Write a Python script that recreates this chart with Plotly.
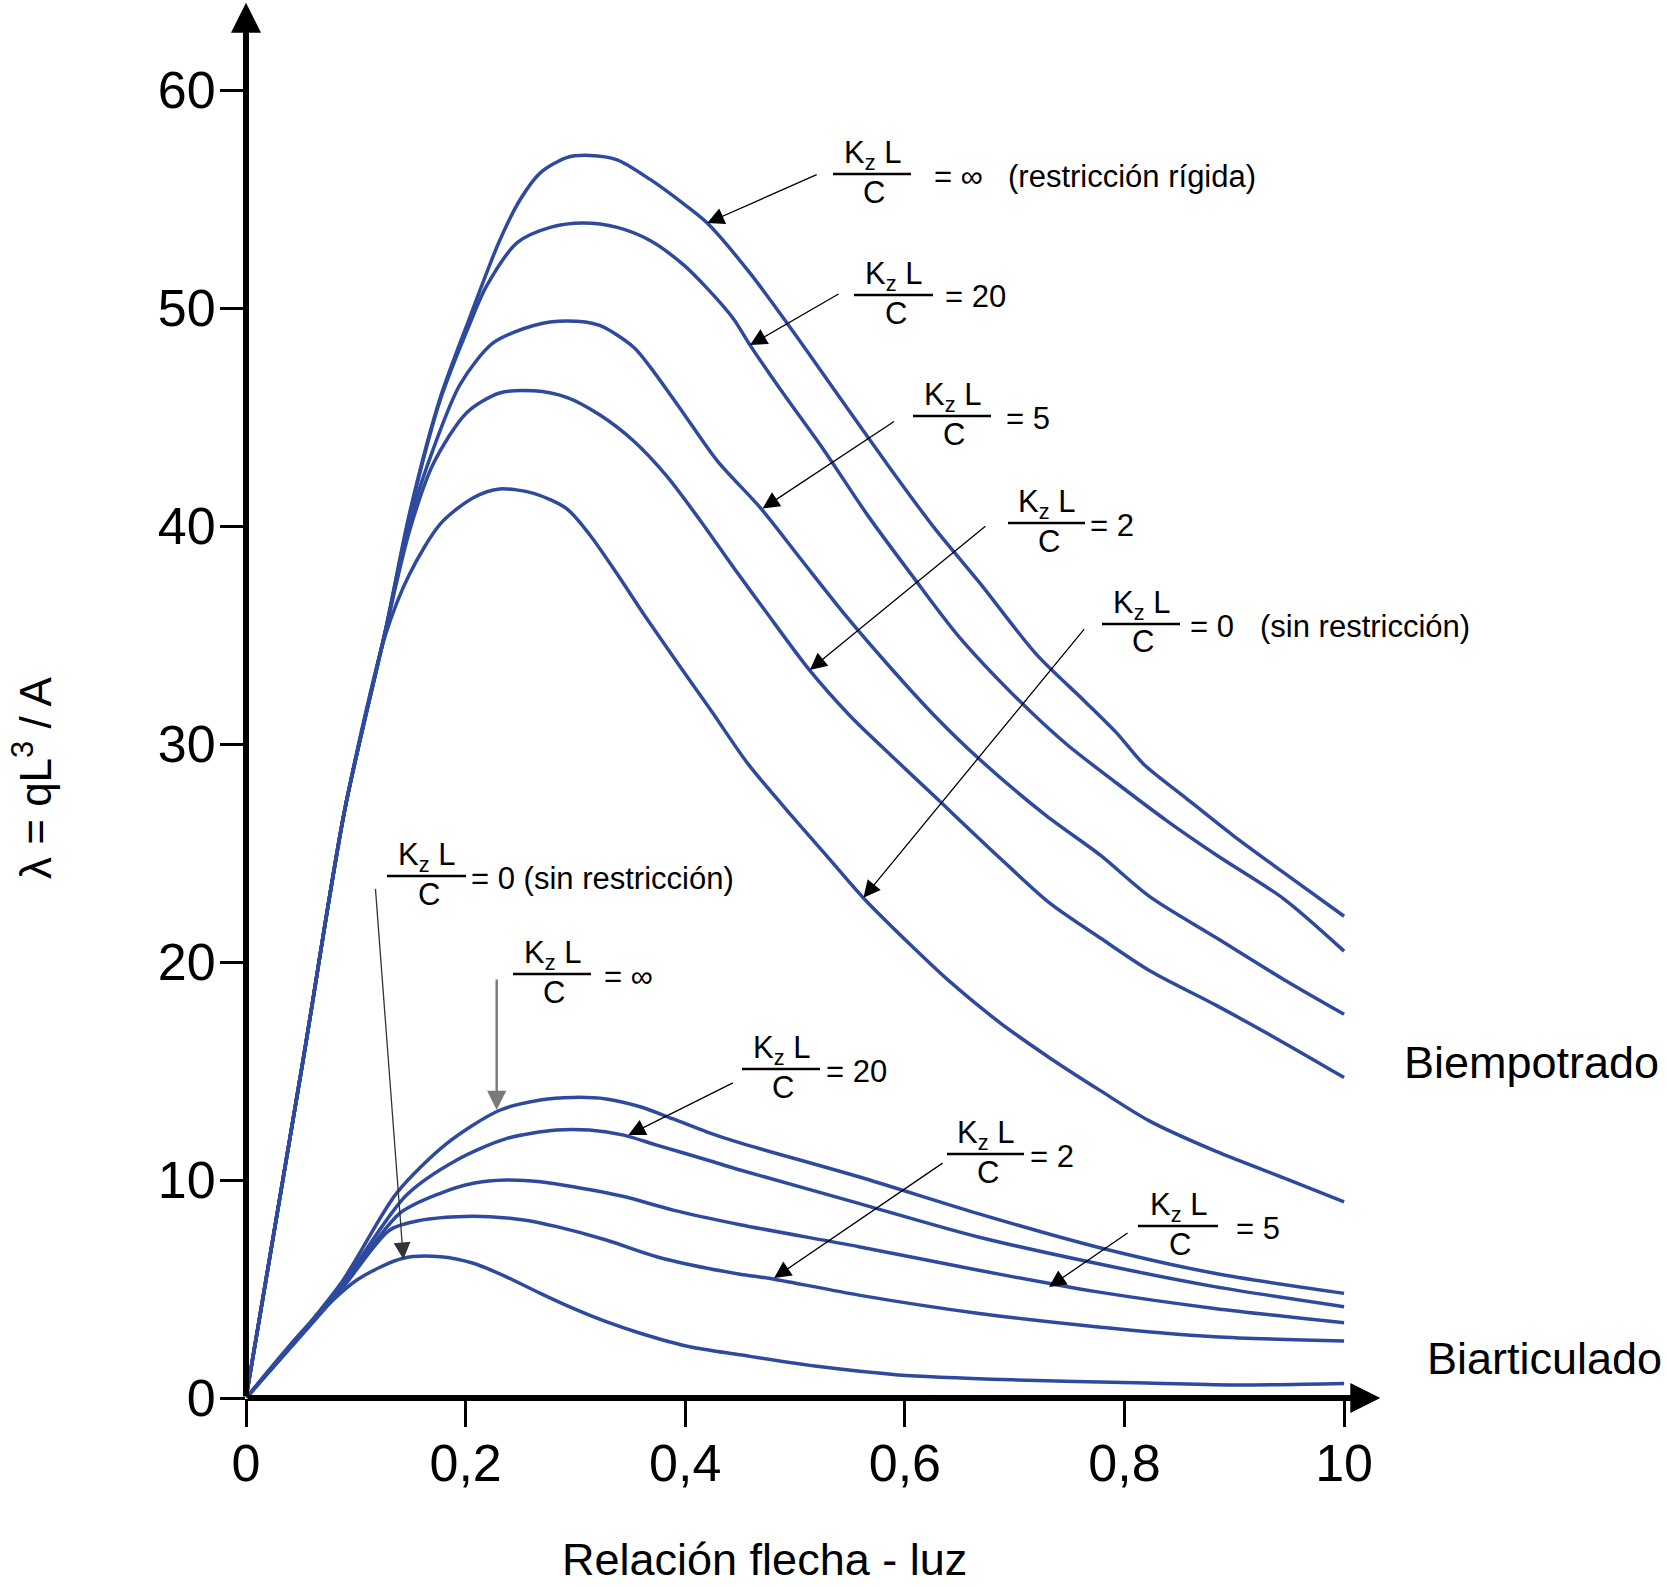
import plotly.graph_objects as go

# ---------------- data ----------------
x_tick_vals = [0, 0.2, 0.4, 0.6, 0.8, 1.0]
x_tick_text = ["0", "0,2", "0,4", "0,6", "0,8", "10"]
y_tick_vals = [0, 10, 20, 30, 40, 50, 60]
y_tick_text = ["0", "10", "20", "30", "40", "50", "60"]

# Biempotrado curves (Kz L / C = inf, 20, 5, 2, 0)
bi_inf_x = [0, 0.052, 0.09, 0.127, 0.149, 0.177, 0.204, 0.231, 0.25, 0.268, 0.292, 0.313, 0.338, 0.368,
            0.398, 0.42, 0.459, 0.50, 0.542, 0.583, 0.627, 0.668, 0.72, 0.763, 0.793, 0.817, 0.854, 0.899,
            0.945, 1.0]
bi_inf_y = [0, 15.5, 27.0, 35.2, 40.6, 45.9, 49.6, 53.1, 55.0, 56.2, 56.9, 57.0, 56.8, 55.9,
            54.8, 53.9, 51.6, 48.8, 45.8, 42.9, 39.9, 37.4, 34.1, 32.0, 30.5, 29.1, 27.6, 25.8,
            24.1, 22.1]

bi_20_x = [0, 0.052, 0.09, 0.127, 0.149, 0.177, 0.204, 0.219, 0.247, 0.277, 0.307, 0.338, 0.368, 0.398,
           0.42, 0.444, 0.459, 0.489, 0.526, 0.566, 0.607, 0.648, 0.702, 0.747, 0.793, 0.838, 0.884,
           0.945, 1.0]
bi_20_y = [0, 15.5, 27.0, 35.2, 40.5, 45.8, 49.3, 51.0, 53.0, 53.7, 53.9, 53.7, 53.1, 52.0,
           50.9, 49.5, 48.3, 46.1, 43.5, 40.5, 37.7, 35.0, 32.1, 30.0, 28.2, 26.5, 24.9,
           22.9, 20.5]

bi_5_x = [0, 0.052, 0.09, 0.127, 0.149, 0.171, 0.195, 0.225, 0.262, 0.292, 0.322, 0.353, 0.368, 0.398,
          0.429, 0.469, 0.505, 0.546, 0.587, 0.627, 0.668, 0.729, 0.778, 0.823, 0.884, 0.945, 1.0]
bi_5_y = [0, 15.5, 27.0, 35.2, 40.2, 43.6, 46.5, 48.4, 49.2, 49.4, 49.2, 48.2, 47.3, 45.2,
          43.0, 40.8, 38.5, 35.9, 33.5, 31.3, 29.3, 26.7, 24.9, 23.0, 21.1, 19.2, 17.6]

bi_2_x = [0, 0.052, 0.09, 0.127, 0.149, 0.171, 0.201, 0.231, 0.262, 0.292, 0.322, 0.353, 0.383, 0.413,
          0.444, 0.473, 0.513, 0.550, 0.587, 0.627, 0.688, 0.732, 0.778, 0.823, 0.884, 0.945, 1.0]
bi_2_y = [0, 15.5, 27.0, 35.2, 39.8, 42.9, 45.2, 46.1, 46.2, 45.9, 45.1, 43.9, 42.3, 40.3,
          38.1, 36.1, 33.4, 31.3, 29.5, 27.6, 24.7, 22.7, 21.1, 19.6, 18.0, 16.3, 14.7]

bi_0_x = [0, 0.052, 0.09, 0.127, 0.149, 0.177, 0.207, 0.231, 0.262, 0.292, 0.313, 0.338, 0.363, 0.396,
          0.424, 0.457, 0.497, 0.530, 0.562, 0.607, 0.641, 0.687, 0.732, 0.778, 0.823, 0.884, 0.945, 1.0]
bi_0_y = [0, 15.5, 27.0, 35.0, 37.8, 40.1, 41.3, 41.7, 41.5, 40.8, 39.6, 37.8, 35.9, 33.5,
          31.5, 29.1, 26.7, 24.8, 22.95, 20.7, 19.1, 17.2, 15.6, 14.1, 12.7, 11.3, 10.1, 9.0]

# Biarticulado curves
ba_inf_x = [0, 0.0856, 0.137, 0.183, 0.231, 0.268, 0.298, 0.328, 0.359, 0.389, 0.420, 0.45, 0.558, 0.666,
            0.774, 0.882, 1.0]
ba_inf_y = [0, 5.2, 9.39, 11.68, 13.2, 13.67, 13.79, 13.72, 13.36, 12.8, 12.2, 11.7, 10.15, 8.47,
            6.94, 5.72, 4.80]

ba_20_x = [0, 0.0856, 0.146, 0.192, 0.237, 0.283, 0.313, 0.344, 0.374, 0.42, 0.45, 0.558, 0.666, 0.774,
           0.882, 1.0]
ba_20_y = [0, 5.1, 9.3, 10.92, 11.9, 12.29, 12.29, 12.06, 11.6, 10.92, 10.46, 8.93, 7.40, 6.18,
           5.11, 4.19]

ba_5_x = [0, 0.0856, 0.140, 0.177, 0.207, 0.237, 0.268, 0.298, 0.344, 0.389, 0.45, 0.558, 0.666, 0.731,
          0.774, 0.882, 1.0]
ba_5_y = [0, 5.0, 8.47, 9.39, 9.85, 10.0, 9.92, 9.69, 9.24, 8.62, 7.95, 6.94, 5.87, 5.26,
          4.88, 4.11, 3.45]

ba_2_x = [0, 0.0856, 0.131, 0.161, 0.192, 0.222, 0.253, 0.283, 0.328, 0.374, 0.420, 0.45, 0.481, 0.558,
          0.666, 0.774, 0.882, 1.0]
ba_2_y = [0, 4.9, 7.71, 8.17, 8.32, 8.32, 8.17, 7.86, 7.25, 6.48, 5.95, 5.68, 5.45, 4.72,
          3.89, 3.27, 2.81, 2.61]

ba_0_x = [0, 0.055, 0.101, 0.143, 0.177, 0.207, 0.237, 0.268, 0.298, 0.328, 0.359, 0.404, 0.45, 0.522,
          0.594, 0.702, 0.81, 0.90, 1.0]
ba_0_y = [0, 3.27, 5.41, 6.41, 6.48, 6.18, 5.56, 4.80, 4.11, 3.50, 2.97, 2.35, 1.98, 1.44,
          1.06, 0.83, 0.70, 0.60, 0.67]

# label arrow heads (points on curves, data units)
arrow_head_x = [0.420, 0.459, 0.4704, 0.5135, 0.5623, 0.1433, 0.2283, 0.3482, 0.4809, 0.7313]
arrow_head_y = [53.9, 48.3, 40.8, 33.4, 22.95, 6.36, 13.21, 12.06, 5.50, 5.09]

label_rhs = [["= \u221e", "(restricción rígida)"], ["= 20"], ["= 5"], ["= 2"],
             ["= 0", "(sin restricción)"], ["= 0 (sin restricción)"], ["= \u221e"],
             ["= 20"], ["= 2"], ["= 5"]]

# ---------------- layout geometry (pixels) ----------------
W, H = 1667, 1587
ML, MR, MT, MB = 246, 268, 0, 189
XR = [0, 1.05]
YR = [0, 64.13]
PW = W - ML - MR
PH = H - MT - MB


def pxx(xp):
    return (xp - ML) / PW


def pxy(yp):
    return (H - MB - yp) / PH


FONT = "Liberation Sans, Arial, sans-serif"
BLUE = "#2e4a9e"
LBL = 31

fig = go.Figure()
curves = [(bi_inf_x, bi_inf_y), (bi_20_x, bi_20_y), (bi_5_x, bi_5_y), (bi_2_x, bi_2_y), (bi_0_x, bi_0_y),
          (ba_inf_x, ba_inf_y), (ba_20_x, ba_20_y), (ba_5_x, ba_5_y), (ba_2_x, ba_2_y), (ba_0_x, ba_0_y)]
for cx, cy in curves:
    fig.add_trace(go.Scatter(x=cx, y=cy, mode="lines", cliponaxis=False,
                             line=dict(color=BLUE, width=3.5, shape="spline", smoothing=0.8),
                             hoverinfo="skip", showlegend=False))

shapes = []
annotations = []

# axes with arrows
annotations.append(dict(x=1.033, y=0, ax=0, ay=0, xref="x", yref="y", axref="x", ayref="y", text="",
                        showarrow=True, arrowhead=2, arrowsize=1.0, arrowwidth=6, arrowcolor="black",
                        standoff=0, startstandoff=0))
annotations.append(dict(x=0, y=64.0, ax=0, ay=0, xref="x", yref="y", axref="x", ayref="y", text="",
                        showarrow=True, arrowhead=2, arrowsize=1.0, arrowwidth=6, arrowcolor="black",
                        standoff=0, startstandoff=0))

# fraction labels: (bar x0, bar x1, bar y, rhs x positions, tail offset px, arrow colour)
label_geo = [
    (833, 911, 174, [932, 1006], (111, -49), "black"),
    (854, 933, 295, [943], (90, -52), "black"),
    (913, 991, 416, [1004], (133, -88), "black"),
    (1008, 1085, 523, [1088], (177, -145), "black"),
    (1102, 1180, 624, [1188, 1258], (222, -270), "black"),
    (387, 466, 876, [469], (-28, -372), "#333333"),
    (513, 591, 974, [602], (0, -132), "#7a7a7a"),
    (742, 820, 1069, [824], (106, -53), "black"),
    (947, 1024, 1154, [1028], (170, -116), "black"),
    (1138, 1218, 1226, [1234], (80, -55), "black"),
]

for i, (bx0, bx1, by, rxs, (tox, toy), acol) in enumerate(label_geo):
    bc = (bx0 + bx1) / 2
    shapes.append(dict(type="line", xref="paper", yref="paper", x0=pxx(bx0), x1=pxx(bx1),
                       y0=pxy(by), y1=pxy(by), line=dict(color="black", width=2.5)))
    annotations.append(dict(xref="paper", yref="paper", x=pxx(bc), y=pxy(by - 19), text="K<sub>z</sub> L",
                            showarrow=False, xanchor="center", yanchor="middle",
                            font=dict(family=FONT, size=LBL, color="black")))
    annotations.append(dict(xref="paper", yref="paper", x=pxx(bc + 2), y=pxy(by + 18), text="C",
                            showarrow=False, xanchor="center", yanchor="middle",
                            font=dict(family=FONT, size=LBL, color="black")))
    for txt, rx in zip(label_rhs[i], rxs):
        annotations.append(dict(xref="paper", yref="paper", x=pxx(rx), y=pxy(by + 2), text=txt,
                                showarrow=False, xanchor="left", yanchor="middle",
                                font=dict(family=FONT, size=LBL, color="black")))
    annotations.append(dict(x=arrow_head_x[i], y=arrow_head_y[i], xref="x", yref="y",
                            ax=tox, ay=toy, text="", showarrow=True, arrowhead=2,
                            arrowsize=2.6 if i != 6 else 1.6, arrowwidth=1.3 if i != 6 else 2.4,
                            arrowcolor=acol, standoff=0))

# group labels and axis titles
annotations.append(dict(xref="paper", yref="paper", x=pxx(1661), y=pxy(1062), text="Biempotrado",
                        showarrow=False, xanchor="right", yanchor="middle",
                        font=dict(family=FONT, size=45, color="black")))
annotations.append(dict(xref="paper", yref="paper", x=pxx(1664), y=pxy(1358), text="Biarticulado",
                        showarrow=False, xanchor="right", yanchor="middle",
                        font=dict(family=FONT, size=45, color="black")))
annotations.append(dict(xref="paper", yref="paper", x=pxx(764), y=pxy(1559), text="Relación flecha - luz",
                        showarrow=False, xanchor="center", yanchor="middle",
                        font=dict(family=FONT, size=45, color="black")))
annotations.append(dict(xref="paper", yref="paper", x=pxx(32), y=pxy(778), text="λ = qL<sup>3</sup> / A",
                        showarrow=False, xanchor="center", yanchor="middle", textangle=-90,
                        font=dict(family=FONT, size=44, color="black")))

fig.update_layout(
    width=W, height=H,
    margin=dict(l=ML, r=MR, t=MT, b=MB, pad=0, autoexpand=False),
    paper_bgcolor="white", plot_bgcolor="white",
    showlegend=False, hovermode=False,
    shapes=shapes, annotations=annotations,
    xaxis=dict(range=XR, showgrid=False, zeroline=False, showline=False, automargin=False,
               tickmode="array", tickvals=x_tick_vals, ticktext=x_tick_text,
               ticks="outside", ticklen=28, tickwidth=2.5, tickcolor="black", ticklabelstandoff=-8,
               tickfont=dict(family=FONT, size=52, color="black"), fixedrange=True),
    yaxis=dict(range=YR, showgrid=False, zeroline=False, showline=False, automargin=False,
               tickmode="array", tickvals=y_tick_vals, ticktext=y_tick_text,
               ticks="outside", ticklen=25, tickwidth=2.5, tickcolor="black", ticklabelstandoff=-6,
               tickfont=dict(family=FONT, size=52, color="black"), fixedrange=True),
)

fig.write_html("out.html", config={"displayModeBar": False},
               post_script="document.body.style.margin='0';document.body.style.overflow='hidden';")
